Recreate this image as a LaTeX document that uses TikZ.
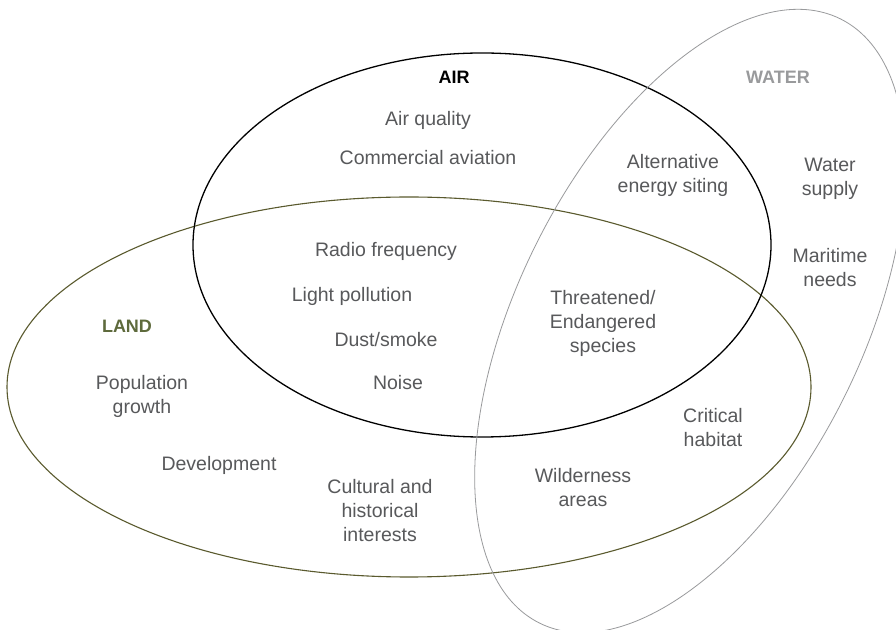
\documentclass[tikz,border=0pt]{standalone}
\usepackage{fontspec}
\setmainfont{Liberation Sans}
\definecolor{txt}{HTML}{58595B}
\definecolor{landc}{HTML}{5E6A3C}
\definecolor{landline}{HTML}{5A5A2E}
\definecolor{waterc}{HTML}{999A9C}
\begin{document}
\begin{tikzpicture}[x=1pt,y=1pt,
  lbl/.style={text=txt,align=center,font=\fontsize{19.5}{24}\selectfont,inner sep=0pt},
  ttl/.style={align=center,font=\fontsize{18}{22}\selectfont\bfseries,inner sep=0pt},
  airset/.style={draw=black,line width=1.3pt},
  landset/.style={draw=landline,line width=1.1pt},
  waterset/.style={draw=waterc,line width=0.8pt}]
\useasboundingbox (0,0) rectangle (896,629);
\clip (0,0) rectangle (896,629);
\fill[white] (0,0) rectangle (896,629);
% sets (y = 629 - image y)
\draw[landset] (409,242) ellipse [x radius=402, y radius=190];
\draw[airset] (482,384) ellipse [x radius=289, y radius=192];
\draw[waterset, rotate around={63.5:(690,308)}] (690,308) ellipse [x radius=337.5, y radius=172];
% titles
\node[ttl,text=black] (air) at (454,552) {AIR};
\node[ttl,text=waterc] (water) at (778,552) {WATER};
\node[ttl,text=landc] (land) at (127,303) {LAND};
% items
\node[lbl] (aq) at (428,509) {Air quality};
\node[lbl] (ca) at (428,471) {Commercial aviation};
\node[lbl] (aes) at (673,454) {Alternative\\energy siting};
\node[lbl] (ws) at (830,450) {Water\\supply};
\node[lbl] (mn) at (830,361) {Maritime\\needs};
\node[lbl] (rf) at (386,378) {Radio frequency};
\node[lbl] (lp) at (352,333) {Light pollution};
\node[lbl] (ds) at (386,289) {Dust/smoke};
\node[lbl] (no) at (398,246) {Noise};
\node[lbl] (te) at (603,306) {Threatened/\\Endangered\\species};
\node[lbl] (pg) at (142,233) {Population\\growth};
\node[lbl] (dv) at (219,164) {Development};
\node[lbl] (ch) at (380,118) {Cultural and\\historical\\interests};
\node[lbl] (wa) at (583,141) {Wilderness\\areas};
\node[lbl] (cr) at (713,201) {Critical\\habitat};
\end{tikzpicture}
\end{document}
